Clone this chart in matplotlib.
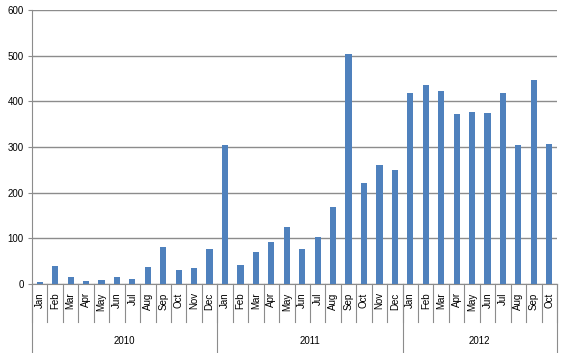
import matplotlib
matplotlib.use("Agg")
import matplotlib.pyplot as plt
import matplotlib.transforms as mtrans

months = ["Jan", "Feb", "Mar", "Apr", "May", "Jun", "Jul", "Aug", "Sep", "Oct", "Nov", "Dec"]
years = ["2010", "2011", "2012"]
months_per_year = [12, 12, 10]

values_2010 = [4, 40, 16, 7, 9, 16, 10, 38, 80, 31, 35, 77]
values_2011 = [304, 42, 70, 93, 125, 76, 102, 168, 503, 222, 261, 250]
values_2012 = [418, 435, 422, 372, 377, 375, 418, 304, 446, 306]

values = values_2010 + values_2011 + values_2012
labels = []
for n in months_per_year:
    labels += months[:n]

plt.rcParams['font.family'] = ['Liberation Sans', 'DejaVu Sans']

fig = plt.figure(figsize=(5.61, 3.53), dpi=100)
ax = fig.add_axes([32 / 561, (353 - 284) / 353, 525 / 561, 274 / 353])

x = list(range(len(values)))
ax.bar(x, values, width=0.4, color="#4F81BD", zorder=3)

ax.set_xlim(-0.5, len(values) - 0.5)
ax.set_ylim(0, 600)
ax.set_yticks(range(0, 601, 100))
ax.yaxis.grid(True, color="#8c8c8c", linewidth=1)
ax.set_axisbelow(True)
ax.tick_params(axis="y", labelsize=7, length=3, color="#8c8c8c", pad=3)

ax.set_xticks(x)
ax.set_xticklabels(labels, rotation=90, fontsize=7)
ax.tick_params(axis="x", length=0, pad=6)

for s in ["top", "right"]:
    ax.spines[s].set_visible(False)
ax.spines["left"].set_color("#8c8c8c")
ax.spines["bottom"].set_color("#8c8c8c")

trans = mtrans.blended_transform_factory(ax.transData, ax.transAxes)
month_bottom = -38 / 274
year_bottom = -69 / 274

# month separators
for i in range(len(values) + 1):
    ax.plot([i - 0.5, i - 0.5], [0, month_bottom], transform=trans,
            color="#8c8c8c", linewidth=0.8, clip_on=False)

# year separators and labels
start = 0
for yr, n in zip(years, months_per_year):
    ax.plot([start - 0.5, start - 0.5], [0, year_bottom], transform=trans,
            color="#8c8c8c", linewidth=0.8, clip_on=False)
    ax.text(start + (n - 1) / 2, -57 / 274, yr, transform=trans,
            ha="center", va="center", fontsize=7)
    start += n
ax.plot([start - 0.5, start - 0.5], [0, year_bottom], transform=trans,
        color="#8c8c8c", linewidth=0.8, clip_on=False)

fig.savefig("out.png", dpi=100)
